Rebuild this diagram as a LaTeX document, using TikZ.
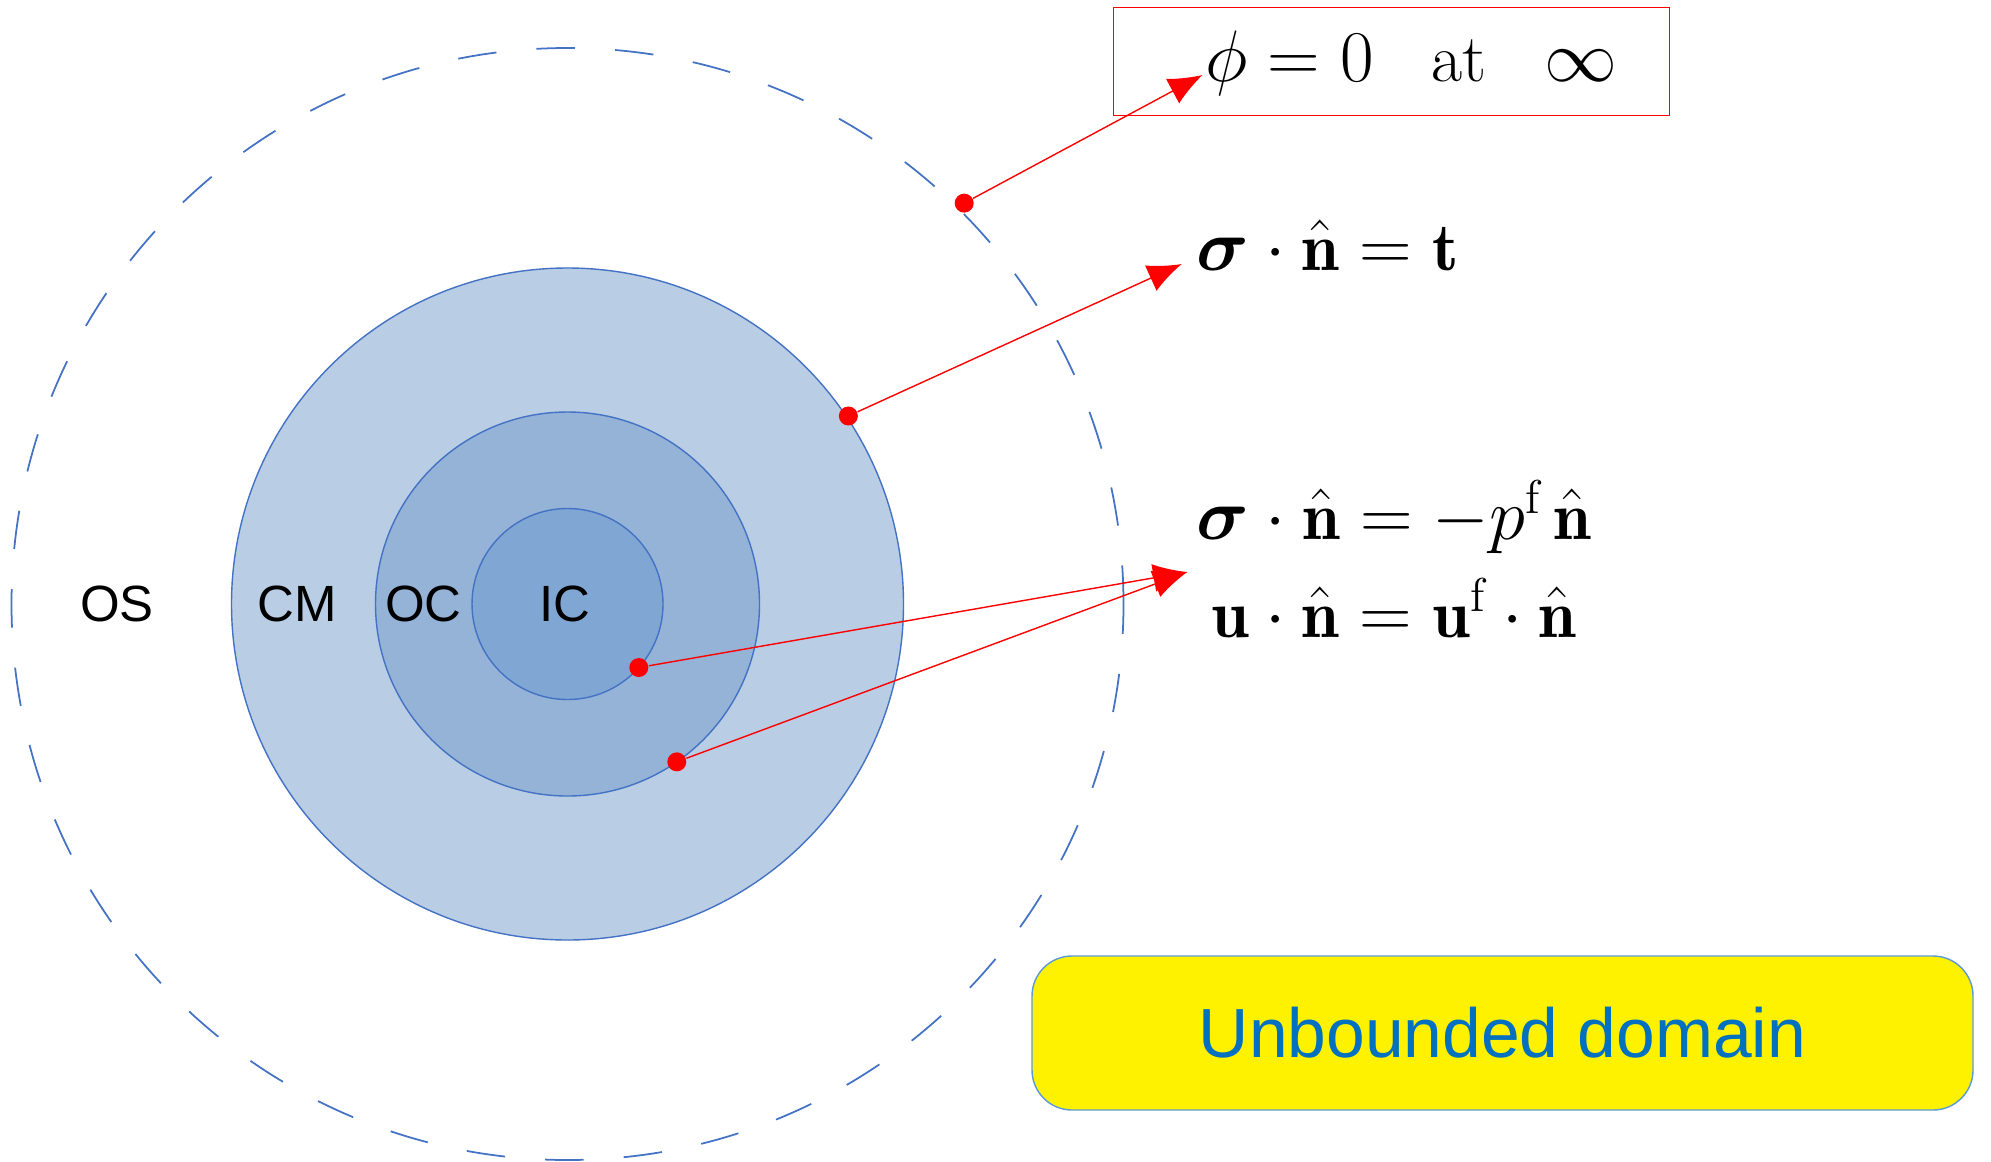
\documentclass[tikz,border=0pt]{standalone}
\usepackage{amsmath}
\usepackage{fontspec}
\newfontfamily\labelfont{Liberation Sans}
\usetikzlibrary{arrows.meta,calc,positioning}
\definecolor{Rim}{HTML}{4472C4}
\definecolor{Mantle}{HTML}{B9CDE5}
\definecolor{Shell}{HTML}{95B3D7}
\definecolor{Core}{HTML}{80A7D3}
\definecolor{Note}{HTML}{0070C0}
\definecolor{Frame}{HTML}{5B9BD5}

\tikzset{
  layer/.style={circle, draw=Rim, line width=0.4pt, inner sep=0pt, outer sep=0pt},
  zone/.style={font=\labelfont\fontsize{14.5}{16}\selectfont},
  spot/.style={circle, fill=red, inner sep=0pt, minimum size=1.9mm},
  law/.style={font=\fontsize{19.3}{28}\selectfont, inner sep=4.5pt},
  link/.style={-{Latex[length=3.4mm,width=2.8mm]}, red, line width=0.4pt},
}

\begin{document}
\begin{tikzpicture}[x=0.1mm, y=0.1mm]
    \useasboundingbox (0,0) rectangle (1991,1161);
    \coordinate (c) at (567.5,557);
    \node[circle, draw=Rim, line width=0.5pt, dash pattern=on 11pt off 11.4pt, minimum size=111.2mm, inner sep=0pt] (os) at (c) {};
    \node[layer, fill=Mantle, minimum size=67.2mm] (cm) at (c) {};
    \node[layer, fill=Shell, minimum size=38.4mm] (oc) at (c) {};
    \node[layer, fill=Core, minimum size=19.1mm] (ic) at (c) {};
    \node[zone] (los) at (117,557) {OS};
    \node[zone] (lcm) at (297,557) {CM};
    \node[zone] (loc) at (423.5,557) {OC};
    \node[zone] (lic) at (565,557) {IC};
    \node[spot] (s1) at ($(c)+(45.3:564)$) {};
    \node[spot] (s2) at ($(c)+(33.8:338)$) {};
    \node[spot] (s3) at ($(c)+(-41.7:95.5)$) {};
    \node[spot] (s4) at ($(c)+(-55.3:192)$) {};
    \node[draw=red, line width=0.4pt, minimum width=55.6mm, minimum height=10.8mm] (frame) at (1391.7,1099.5) {};
    \node[law, anchor=base, inner sep=0.5pt] (phi) at (1411,1079) {$\phi = 0\hspace{0.85em}\mathrm{at}\hspace{0.85em}\infty$};
    \node[law, anchor=base] (trac) at (1327.5,891) {$\boldsymbol{\sigma}\cdot\hat{\mathbf{n}} = \mathbf{t}$};
    \node[law, align=center] (cont) at (1394,602) {$\boldsymbol{\sigma}\cdot\hat{\mathbf{n}} = -p^{\mathrm{f}}\,\hat{\mathbf{n}}$\\ $\mathbf{u}\cdot\hat{\mathbf{n}} = \mathbf{u}^{\mathrm{f}}\cdot\hat{\mathbf{n}}$};
    \node[draw=Frame, fill=yellow, rounded corners=4mm, minimum width=94.1mm, minimum height=15.4mm, text=Note, font=\labelfont\fontsize{19.8}{24}\selectfont] (dom) at (1502.5,128) {Unbounded domain};
    \coordinate (tphi) at ($(phi.base west)+(0,7)$);
    \coordinate (ttrac) at ($(trac.base west)+(2,6)$);
    \coordinate (tcont) at ($(cont.west)+(7,-13)$);
    \draw[link] (s1) -- (tphi);
    \draw[link] (s2) -- (ttrac);
    \draw[link] (s3) -- (tcont);
    \draw[link] (s4) -- (tcont);
\end{tikzpicture}
\end{document}
